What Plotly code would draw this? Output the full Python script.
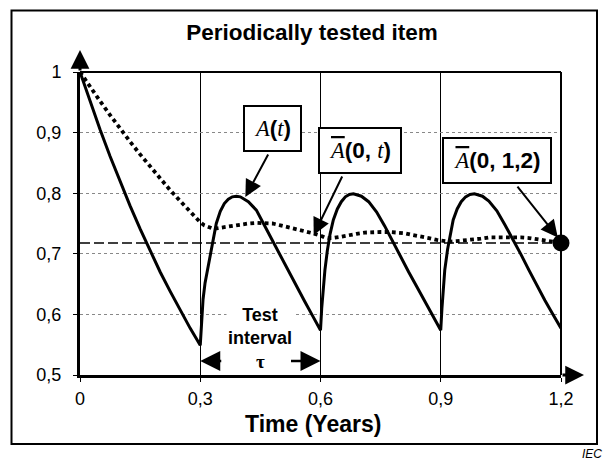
import plotly.graph_objects as go

# ---- data ----
t_avail = [0, 0.025, 0.05, 0.075, 0.1, 0.125, 0.15, 0.175, 0.2, 0.225, 0.25, 0.275, 0.3,
           0.303, 0.307, 0.312, 0.318, 0.325, 0.332, 0.34, 0.35, 0.36, 0.37, 0.38, 0.39, 0.4,
           0.42, 0.44, 0.46, 0.48, 0.5, 0.52, 0.54, 0.56, 0.58, 0.6,
           0.603, 0.607, 0.611, 0.617, 0.624, 0.632, 0.642, 0.652, 0.662, 0.672, 0.682, 0.692,
           0.702, 0.72, 0.74, 0.76, 0.78, 0.8, 0.82, 0.84, 0.86, 0.88, 0.9,
           0.903, 0.907, 0.91, 0.917, 0.924, 0.931, 0.941, 0.951, 0.962, 0.973, 0.984, 0.994,
           1.004, 1.02, 1.04, 1.06, 1.08, 1.1, 1.12, 1.14, 1.16, 1.18, 1.2]
a_inst = [1.0, 0.951, 0.905, 0.861, 0.819, 0.779, 0.741, 0.705, 0.670, 0.638, 0.607, 0.577, 0.549,
          0.588, 0.625, 0.652, 0.673, 0.700, 0.725, 0.750, 0.770, 0.783, 0.790, 0.794, 0.795, 0.794,
          0.786, 0.772, 0.747, 0.722, 0.695, 0.671, 0.646, 0.622, 0.598, 0.574,
          0.610, 0.645, 0.673, 0.705, 0.733, 0.756, 0.774, 0.786, 0.794, 0.798, 0.799, 0.797,
          0.795, 0.786, 0.769, 0.746, 0.720, 0.694, 0.670, 0.646, 0.622, 0.598, 0.574,
          0.610, 0.645, 0.673, 0.707, 0.735, 0.756, 0.774, 0.786, 0.794, 0.798, 0.799, 0.797,
          0.795, 0.787, 0.771, 0.748, 0.724, 0.699, 0.673, 0.647, 0.623, 0.600, 0.577]

t_mean = [0, 0.025, 0.05, 0.075, 0.1, 0.125, 0.15, 0.175, 0.2, 0.225, 0.25, 0.275, 0.3,
          0.31, 0.32, 0.33, 0.34, 0.36, 0.38, 0.4, 0.42, 0.44, 0.46, 0.48, 0.5, 0.52, 0.54,
          0.56, 0.58, 0.6, 0.61, 0.62, 0.63, 0.65, 0.67, 0.69, 0.71, 0.73, 0.75, 0.77, 0.79,
          0.81, 0.83, 0.85, 0.87, 0.89, 0.9, 0.92, 0.94, 0.96, 0.98, 1.0, 1.02, 1.04, 1.06,
          1.08, 1.1, 1.12, 1.14, 1.16, 1.18, 1.2]
a_mean = [1.0, 0.975, 0.952, 0.929, 0.906, 0.885, 0.864, 0.844, 0.824, 0.805, 0.787, 0.769, 0.752,
          0.747, 0.744, 0.742, 0.742, 0.744, 0.747, 0.749, 0.750, 0.751, 0.751, 0.750, 0.747, 0.744, 0.741,
          0.737, 0.734, 0.730, 0.727, 0.726, 0.726, 0.728, 0.731, 0.733, 0.735, 0.736, 0.736, 0.736, 0.735,
          0.734, 0.731, 0.729, 0.726, 0.723, 0.722, 0.720, 0.721, 0.722, 0.724, 0.725, 0.727, 0.727, 0.728,
          0.728, 0.727, 0.726, 0.724, 0.722, 0.720, 0.718]

t_span = [0, 1.2]
a_final = 0.718

x_ticks = [0, 0.3, 0.6, 0.9, 1.2]
x_ticktext = ["0", "0,3", "0,6", "0,9", "1,2"]
y_ticks = [0.5, 0.6, 0.7, 0.8, 0.9, 1.0]
y_ticktext = ["0,5", "0,6", "0,7", "0,8", "0,9", "1"]

SANS = "Liberation Sans, Arial, sans-serif"
SERIF = "Liberation Serif"

fig = go.Figure()
fig.add_trace(go.Scatter(x=t_span, y=[a_final, a_final], mode="lines",
                         line=dict(color="black", width=1.5, dash="10px,4px"),
                         cliponaxis=False, hoverinfo="skip"))
fig.add_trace(go.Scatter(x=t_mean, y=a_mean, mode="lines",
                         line=dict(color="black", width=3.8, dash="3.8px,3.4px"),
                         cliponaxis=False))
fig.add_trace(go.Scatter(x=t_avail, y=a_inst, mode="lines",
                         line=dict(color="black", width=3),
                         cliponaxis=False))
fig.add_trace(go.Scatter(x=[t_span[-1]], y=[a_final], mode="markers",
                         marker=dict(color="black", size=17),
                         cliponaxis=False))

# plot area: x 80..561 px, y 72..375 px
L, R, T, B = 80, 561, 72, 375
W, H = 609, 461
def px(x):
    return (x - L) / (R - L)
def py(y):
    return (B - y) / (B - T)

def serif_i(s, extra=""):
    return f'<span style="font-family:{SERIF}{extra}"><i>{s}</i></span>'

box_font = dict(family=SANS, size=22.5, color="black")
annotations = [
    # boxes
    dict(text=serif_i("A") + "<b>(</b>" + serif_i("t") + "<b>)</b>",
         xref="paper", yref="paper", x=px(272.2), y=py(128.7), xanchor="center", yanchor="middle",
         showarrow=False, bgcolor="white", bordercolor="black", borderwidth=2, borderpad=2,
         width=51, height=39, font=box_font),
    dict(text=serif_i("A", ";text-decoration:overline") + "<b>(0, </b>" + serif_i("t") + "<b>)</b>",
         xref="paper", yref="paper", x=px(359.5), y=py(150), xanchor="center", yanchor="middle",
         showarrow=False, bgcolor="white", bordercolor="black", borderwidth=2, borderpad=2,
         width=76, height=39, font=box_font),
    dict(text=serif_i("A", ";text-decoration:overline") + "<b>(0, 1,2)</b>",
         xref="paper", yref="paper", x=px(496.5), y=py(160), xanchor="center", yanchor="middle",
         showarrow=False, bgcolor="white", bordercolor="black", borderwidth=2, borderpad=2,
         width=102, height=39, font=box_font),
    # pointer arrows
    dict(text="", xref="x", yref="y", x=0.4125, y=0.7937, ax=23.6, ay=-44,
         showarrow=True, arrowhead=2, arrowwidth=2, arrowsize=1.7, arrowcolor="black"),
    dict(text="", xref="x", yref="y", x=0.583, y=0.731, ax=29.2, ay=-60,
         showarrow=True, arrowhead=2, arrowwidth=2, arrowsize=1.7, arrowcolor="black"),
    dict(text="", xref="x", yref="y", x=1.192, y=0.727, ax=-41.5, ay=-52.3,
         showarrow=True, arrowhead=2, arrowwidth=2, arrowsize=1.7, arrowcolor="black"),
    # axis arrows (beyond the axis ranges, so placed in paper coordinates)
    dict(text="", xref="paper", yref="paper", x=0, y=py(50), ax=0, ay=22,
         showarrow=True, arrowhead=2, arrowwidth=3, arrowsize=1.25, arrowcolor="black"),
    dict(text="", xref="paper", yref="paper", x=px(584), y=0, ax=-23, ay=0,
         showarrow=True, arrowhead=2, arrowwidth=3, arrowsize=1.25, arrowcolor="black"),
    # test interval
    dict(text="<b>Test<br>interval</b>", xref="x", yref="paper", x=0.45, y=py(326),
         xanchor="center", yanchor="middle", showarrow=False, bgcolor="white",
         font=dict(family=SANS, size=18, color="black")),
    dict(text="<b>τ</b>", xref="x", yref="y", x=0.45, y=0.523, xanchor="center", yanchor="middle",
         showarrow=False, font=dict(family=SERIF, size=19, color="black")),
    dict(text="", xref="x", yref="y", x=0.3, y=0.523, ax=22.5, ay=0,
         showarrow=True, arrowhead=2, arrowwidth=2.5, arrowsize=1.6, arrowcolor="black"),
    dict(text="", xref="x", yref="y", x=0.6, y=0.523, ax=-31, ay=0,
         showarrow=True, arrowhead=2, arrowwidth=2.5, arrowsize=1.6, arrowcolor="black"),
    # axis title
    dict(text="<b>Time (Years)</b>", xref="paper", yref="paper", x=px(312.5), y=py(424),
         xanchor="center", yanchor="middle", showarrow=False,
         font=dict(family=SANS, size=23, color="black")),
    # source tag
    dict(text="<i>IEC</i>", xref="paper", yref="paper", x=px(580), y=py(453.5),
         xanchor="left", yanchor="middle", showarrow=False,
         font=dict(family=SANS, size=12, color="black")),
]

shapes = [
    # outer frame
    dict(type="rect", xref="paper", yref="paper", x0=px(11.5), x1=px(597), y0=py(444), y1=py(10.5),
         line=dict(color="black", width=2), layer="below"),
    # top and right borders of the plot area
    dict(type="line", xref="x domain", yref="y domain", x0=0, x1=1, y0=1, y1=1,
         line=dict(color="black", width=2)),
    dict(type="line", xref="x domain", yref="y domain", x0=1, x1=1, y0=0, y1=1,
         line=dict(color="black", width=2)),
]

fig.update_layout(
    width=W, height=H,
    margin=dict(l=L, r=W - R, t=T, b=H - B),
    paper_bgcolor="white", plot_bgcolor="white",
    showlegend=False,
    font=dict(family=SANS, color="black"),
    title=dict(text="<b>Periodically tested item</b>", xref="container", yref="container",
               x=312 / W, y=1 - 32 / H, xanchor="center", yanchor="middle",
               font=dict(family=SANS, size=22.5, color="black")),
    xaxis=dict(range=[0, 1.2], tickvals=x_ticks, ticktext=x_ticktext,
               showgrid=True, gridcolor="black", gridwidth=1,
               showline=True, linecolor="black", linewidth=3,
               ticks="outside", ticklen=4, tickwidth=1, tickcolor="black",
               ticklabelstandoff=1,
               tickfont=dict(family=SANS, size=18, color="black"),
               zeroline=False, fixedrange=True),
    yaxis=dict(range=[0.5, 1.0], tickvals=y_ticks, ticktext=y_ticktext,
               showgrid=True, gridcolor="#888888", gridwidth=1, griddash="dot",
               showline=True, linecolor="black", linewidth=3,
               ticks="outside", ticklen=4, tickwidth=1, tickcolor="black",
               ticklabelstandoff=8,
               tickfont=dict(family=SANS, size=18, color="black"),
               zeroline=False, fixedrange=True),
    annotations=annotations,
    shapes=shapes,
)

fig.write_html("out.html")
